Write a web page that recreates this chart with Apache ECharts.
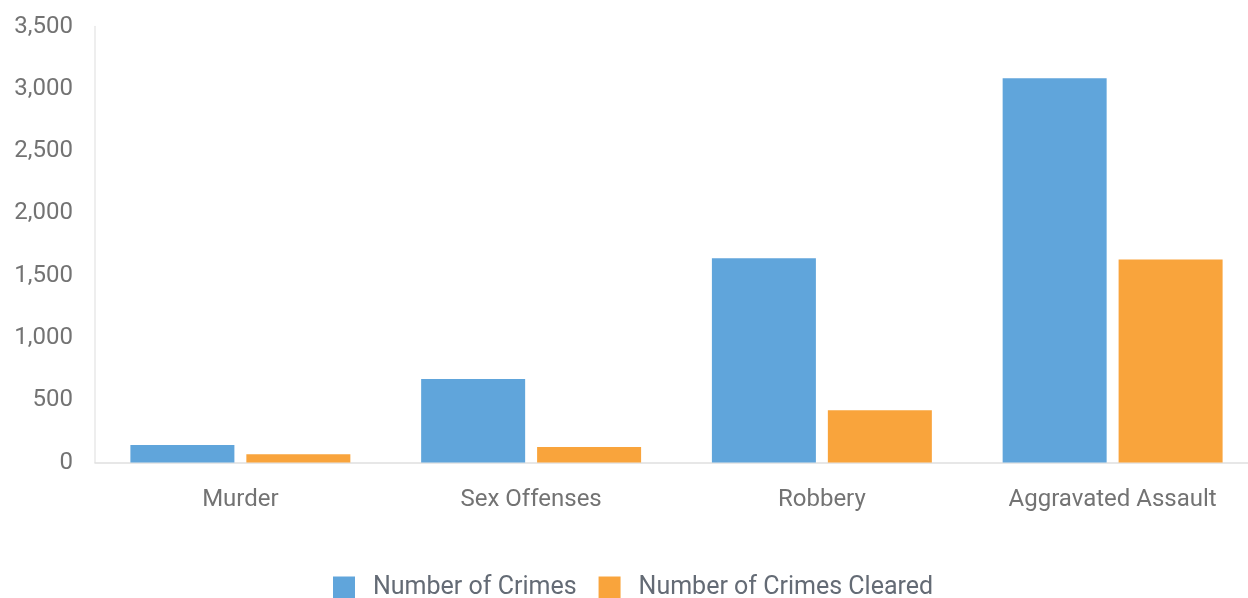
<!DOCTYPE html>
<html>
<head>
<meta charset="utf-8">
<script src="https://cdn.jsdelivr.net/npm/echarts@6/dist/echarts.min.js"></script>
<style>
html,body{margin:0;padding:0;background:#fff;overflow:hidden;width:1248px;height:598px;}
#chart{width:1262px;height:598px;}
</style>
</head>
<body>
<div id="chart"></div>
<script>
const categories = ['Murder', 'Sex Offenses', 'Robbery', 'Aggravated Assault'];
const crimes = [140, 670, 1640, 3085];
const cleared = [66, 125, 420, 1630];
const yTicks = [0, 500, 1000, 1500, 2000, 2500, 3000, 3500];

const chart = echarts.init(document.getElementById('chart'));
chart.setOption({
  animation: false,
  backgroundColor: '#ffffff',
  textStyle: { fontFamily: 'Roboto' },
  grid: { left: 95, right: 4, top: 26.5, bottom: 135.5, containLabel: false },
  legend: {
    left: 328,
    top: 570,
    itemWidth: 22,
    itemHeight: 22,
    itemGap: 22,
    icon: 'rect',
    textStyle: { fontSize: 25, color: '#646b75', fontFamily: 'Roboto', padding: [0, 0, 0, 13] },
    data: ['Number of Crimes', 'Number of Crimes Cleared']
  },
  xAxis: {
    type: 'category',
    data: categories,
    axisLine: { show: true, lineStyle: { color: '#e0e0e0', width: 1.5 } },
    axisTick: { show: false },
    axisLabel: { fontSize: 24, color: '#737373', margin: 25 }
  },
  yAxis: {
    type: 'value',
    min: yTicks[0],
    max: yTicks[yTicks.length - 1],
    interval: 500,
    axisLine: { show: true, lineStyle: { color: '#e8e8e8', width: 1.5 } },
    axisTick: { show: false },
    splitLine: { show: false },
    axisLabel: {
      fontSize: 24, color: '#737373', margin: 22,
      formatter: v => v.toLocaleString('en-US')
    }
  },
  series: [
    {
      name: 'Number of Crimes', type: 'bar', data: crimes,
      barWidth: 104, barGap: '11.5%',
      itemStyle: { color: '#60a5db' }
    },
    {
      name: 'Number of Crimes Cleared', type: 'bar', data: cleared,
      barWidth: 104, barGap: '11.5%',
      itemStyle: { color: '#f9a43c' }
    }
  ]
});
</script>
</body>
</html>
